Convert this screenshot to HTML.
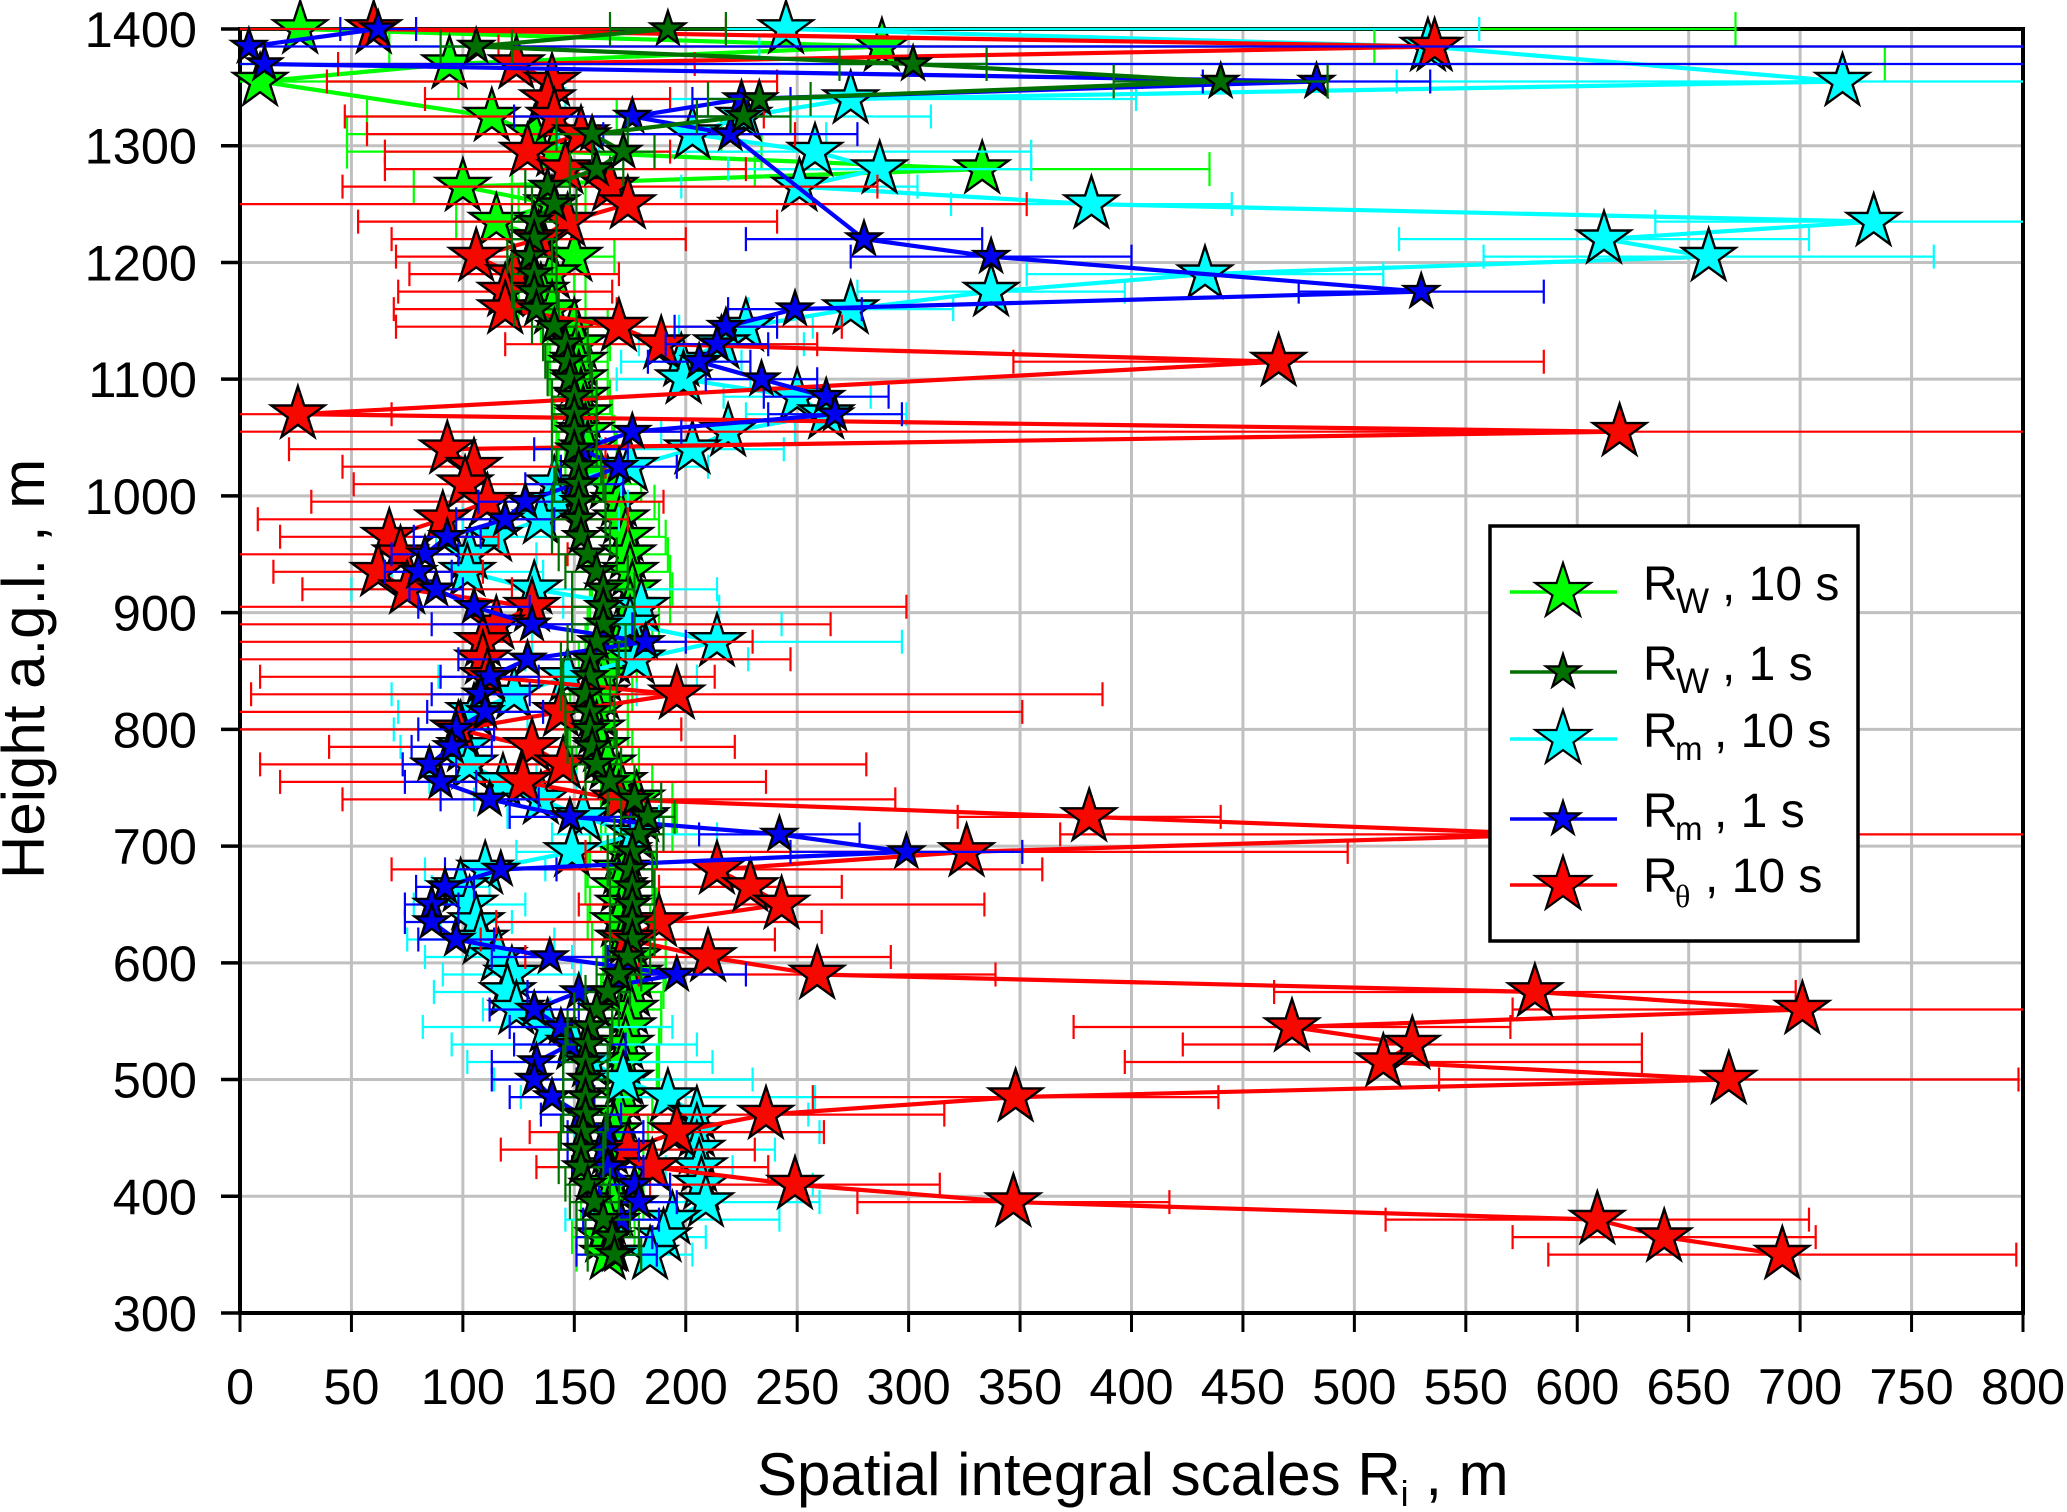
<!DOCTYPE html>
<html lang="en">
<head>
<meta charset="utf-8">
<title>Spatial integral scales vs height</title>
<style>
html,body{margin:0;padding:0;background:#fff;}
svg{display:block;}
text{font-family:"Liberation Sans",sans-serif;fill:#000;}
</style>
</head>
<body>
<svg id="chart" xmlns="http://www.w3.org/2000/svg" width="2067" height="1512" viewBox="0 0 2067 1512">
  <defs><clipPath id="plot-clip"><rect x="240" y="0" width="1783" height="1512"></rect></clipPath></defs>
  <rect x="0" y="0" width="2067" height="1512" fill="#ffffff"></rect>
  <g id="grid"></g>
  <g id="frame"></g>
  <g id="series" ></g>
  <text x="757" y="1495" font-size="60">Spatial integral scales R<tspan font-size="36" dy="11">i</tspan><tspan dy="-11"> , m</tspan></text>
  <text transform="translate(44,879) rotate(-90)" font-size="60">Height a.g.l. , m</text>
  <g id="legend">
    <rect x="1490" y="526" width="368" height="415" fill="#ffffff" stroke="#000000" stroke-width="3.5"></rect>
    <g><text x="1643" y="600" font-size="48">R</text><text x="1676" y="613" font-size="35">W</text><text x="1722" y="600" font-size="48">, 10 s</text></g>
    <g><text x="1643" y="680" font-size="48">R</text><text x="1676" y="693" font-size="35">W</text><text x="1722" y="680" font-size="48">, 1 s</text></g>
    <g><text x="1643" y="747" font-size="48">R</text><text x="1675" y="760" font-size="33">m</text><text x="1714" y="747" font-size="48">, 10 s</text></g>
    <g><text x="1643" y="827" font-size="48">R</text><text x="1675" y="840" font-size="33">m</text><text x="1714" y="827" font-size="48">, 1 s</text></g>
    <g><text x="1643" y="892" font-size="48">R</text><text x="1675" y="907" font-size="32" style="font-family:'Liberation Serif',serif">θ</text><text x="1705" y="892" font-size="48">, 10 s</text></g>
  </g>
</svg>
<script>
const xTickLabels = [0,50,100,150,200,250,300,350,400,450,500,550,600,650,700,750,800];
const yTickLabels = [300,400,500,600,700,800,900,1000,1100,1200,1300,1400];
const heights = [1400,1385,1370,1355,1340,1325,1310,1295,1280,1265,1250,1235,1220,1205,1190,1175,1160,1145,1130,1115,1100,1085,1070,1055,1040,1025,1010,995,980,965,950,935,920,905,890,875,860,845,830,815,800,785,770,755,740,725,710,695,680,665,650,635,620,605,590,575,560,545,530,515,500,485,470,455,440,425,410,395,380,365,350];
const rw10Values = [27,288,94,9,null,113,132,141,333,100,140,115,135,150,140,135,140,150,152,152,152,153,154,155,156,160,165,170,171,173,174,175,176,175,172,170,167,163,162,160,160,162,165,170,178,180,178,172,171,170,172,170,172,177,177,176,175,174,173,172,173,172,170,168,166,165,167,167,165,163,165];
const rw10Errors = [644,221,644,89,null,56,84,93,102,22,15,18,15,18,15,15,15,15,14,13,13,13,13,13,13,14,15,16,17,18,18,18,18,18,16,15,15,15,14,14,14,14,14,15,16,16,16,15,15,15,15,14,14,14,14,14,14,15,15,15,15,15,15,15,15,14,14,14,14,14,14];
const rw1Values = [192,106,302,440,233,226,158,172,160,138,141,132,132,130,132,132,133,141,146,147,148,150,150,150,150,152,152,152,152,153,156,160,163,163,163,160,157,157,155,157,157,158,160,166,177,183,179,176,175,176,176,176,176,174,170,165,160,157,156,155,155,155,155,154,153,153,156,159,163,167,168];
const rw1Errors = [26,16,33,48,23,21,16,14,12,10,10,10,10,10,10,10,10,10,10,10,10,10,10,10,10,10,11,12,12,13,13,14,14,14,14,13,13,12,11,11,11,11,11,11,12,12,11,11,10,10,10,10,10,10,10,10,10,10,10,10,10,10,10,10,10,10,10,11,12,12,12];
const rm10Values = [245,533,null,719,274,226,203,258,287,251,382,733,612,659,433,337,274,227,216,198,199,250,263,219,203,175,141,142,135,114,103,102,132,180,175,214,178,147,123,105,99,101,103,118,135,154,177,149,110,99,103,106,108,116,122,120,124,138,150,157,172,192,205,205,205,206,207,209,194,190,184];
const rm10Errors = [311,300,null,200,128,84,60,97,68,53,63,98,92,101,80,60,46,30,37,27,30,33,36,30,41,35,30,32,35,26,30,34,82,35,68,83,50,58,55,34,30,29,30,33,30,34,37,25,27,13,25,16,33,33,31,33,15,56,55,55,58,66,50,55,35,15,50,51,48,19,19];
const rm1Values = [62,4,11,483,225,176,220,null,null,null,null,null,280,337,null,530,249,218,214,206,234,263,267,176,153,170,150,128,119,93,83,80,88,105,131,182,129,112,108,110,97,95,85,90,112,148,242,299,117,92,86,86,97,139,196,152,132,144,148,133,132,140,153,164,163,165,177,179,171,168,169];
const rm1Errors = [17,800,800,51,22,53,57,null,null,null,null,null,53,63,null,55,30,23,23,23,25,28,30,22,21,26,22,21,22,15,15,15,12,25,45,18,31,22,22,26,17,18,12,16,22,27,36,52,25,13,12,12,17,26,31,23,20,23,25,20,19,19,18,17,16,16,16,17,17,17,18];
const rtheta10Values = [60,536,124,140,138,141,153,129,146,166,174,147,134,106,123,119,119,170,189,466,null,null,26,619,93,105,101,111,91,67,72,62,75,131,115,109,109,111,196,144,98,131,145,127,170,381,590,326,214,229,243,188,174,210,259,581,701,472,526,513,668,348,236,196,174,185,249,347,609,639,692];
const rtheta10Errors = [158,420,80,101,55,94,96,64,81,120,179,94,66,36,47,48,50,100,70,119,null,null,42,640,71,59,50,79,83,49,75,47,47,168,150,121,138,102,191,207,100,91,136,109,124,59,222,171,146,41,91,73,66,82,80,117,130,98,103,116,130,91,80,66,57,52,65,70,95,68,105];

const SVG_NS = 'http://www.w3.org/2000/svg';
function xScale(v){ return 240 + (v - 0) * (2023 - 240) / 800; }
function yScale(h){ return 29 + (1400 - h) * (1313 - 29) / 1100; }
function make(tag, parent){ const el = document.createElementNS(SVG_NS, tag); parent.appendChild(el); return el; }
function starPath(cx, cy, r){
  let d = '';
  for (let k = 0; k < 10; k++){
    const rad = k % 2 === 0 ? r : r * 0.382;
    const a = -Math.PI / 2 + k * Math.PI / 5;
    d += (k === 0 ? 'M' : 'L') + (cx + rad * Math.cos(a)).toFixed(1) + ' ' + (cy + rad * Math.sin(a)).toFixed(1);
  }
  return d + 'Z';
}

const gridG = document.getElementById('grid');
const frameG = document.getElementById('frame');
xTickLabels.forEach(function(t){
  const x = xScale(t);
  if (t !== 0 && t !== 800){
    const g = make('line', gridG);
    
    
    g.setAttribute('x1', x); g.setAttribute('x2', x);
    g.setAttribute('y1', yScale(1400)); g.setAttribute('y2', yScale(300));
    g.setAttribute('stroke', '#c0c0c0'); g.setAttribute('stroke-width', '3');
  }
  const tick = make('line', frameG);
  
  
  tick.setAttribute('x1', x); tick.setAttribute('x2', x);
  tick.setAttribute('y1', yScale(300)); tick.setAttribute('y2', yScale(300) + 19);
  tick.setAttribute('stroke', '#000'); tick.setAttribute('stroke-width', '3');
  const lab = make('text', frameG);
  
  
  lab.setAttribute('x', x); lab.setAttribute('y', 1404);
  lab.setAttribute('font-size', '50.5'); lab.setAttribute('text-anchor', 'middle');
  lab.textContent = String(t);
});
yTickLabels.forEach(function(t){
  const y = yScale(t);
  if (t !== 300 && t !== 1400){
    const g = make('line', gridG);
    
    
    g.setAttribute('x1', xScale(0)); g.setAttribute('x2', xScale(800));
    g.setAttribute('y1', y); g.setAttribute('y2', y);
    g.setAttribute('stroke', '#c0c0c0'); g.setAttribute('stroke-width', '3');
  }
  const tick = make('line', frameG);
  
  
  tick.setAttribute('x1', xScale(0) - 19); tick.setAttribute('x2', xScale(0));
  tick.setAttribute('y1', y); tick.setAttribute('y2', y);
  tick.setAttribute('stroke', '#000'); tick.setAttribute('stroke-width', '3.5');
  const lab = make('text', frameG);
  
  
  lab.setAttribute('x', 197); lab.setAttribute('y', y + 18);
  lab.setAttribute('font-size', '50.5'); lab.setAttribute('text-anchor', 'end');
  lab.textContent = String(t);
});
const plotFrame = make('rect', frameG);


plotFrame.setAttribute('x', xScale(0)); plotFrame.setAttribute('y', yScale(1400));
plotFrame.setAttribute('width', xScale(800) - xScale(0)); plotFrame.setAttribute('height', yScale(300) - yScale(1400));
plotFrame.setAttribute('fill', 'none'); plotFrame.setAttribute('stroke', '#000'); plotFrame.setAttribute('stroke-width', '4');

const seriesG = document.getElementById('series');
function drawSeries(key, values, errors, lineColor, starRadius, capHalf){
  const group = make('g', seriesG);
  
  
  const clipped = make('g', group);
  clipped.setAttribute('clip-path', 'url(#plot-clip)');
  
  
  let pts = '';
  values.forEach(function(v, i){
    if (v === null) return;
    pts += xScale(v).toFixed(1) + ',' + yScale(heights[i]).toFixed(1) + ' ';
    const e = errors[i];
    if (e === null) return;
    const y = yScale(heights[i]);
    const bar = make('path', clipped);
    
    
    const xl = xScale(v - e), xr = xScale(v + e);
    bar.setAttribute('d', 'M' + xl.toFixed(1) + ' ' + y.toFixed(1) + 'H' + xr.toFixed(1) +
      'M' + xl.toFixed(1) + ' ' + (y - capHalf).toFixed(1) + 'V' + (y + capHalf).toFixed(1) +
      'M' + xr.toFixed(1) + ' ' + (y - capHalf).toFixed(1) + 'V' + (y + capHalf).toFixed(1));
    bar.setAttribute('fill', 'none');
    bar.setAttribute('stroke', lineColor.bar);
    bar.setAttribute('stroke-width', '2.2');
  });
  const line = make('polyline', clipped);
  
  
  line.setAttribute('points', pts.trim());
  line.setAttribute('fill', 'none');
  line.setAttribute('stroke', lineColor.bar);
  line.setAttribute('stroke-width', '4.2');
  line.setAttribute('stroke-linejoin', 'miter');
  values.forEach(function(v, i){
    if (v === null) return;
    const star = make('path', group);
    
    
    star.setAttribute('d', starPath(xScale(v), yScale(heights[i]), starRadius));
    star.setAttribute('fill', lineColor.fill);
    star.setAttribute('stroke', '#000');
    star.setAttribute('stroke-width', '2.4');
  });
}
drawSeries('rw-10s', rw10Values, rw10Errors, {bar:'#00ff00', fill:'#00ff00'}, 28, 17);
drawSeries('rm-10s', rm10Values, rm10Errors, {bar:'#00ffff', fill:'#00ffff'}, 28, 12);
drawSeries('rtheta-10s', rtheta10Values, rtheta10Errors, {bar:'#ff0000', fill:'#f50800'}, 28, 12);
drawSeries('rm-1s', rm1Values, rm1Errors, {bar:'#0000ff', fill:'#0000f0'}, 18, 12);
drawSeries('rw-1s', rw1Values, rw1Errors, {bar:'#007000', fill:'#006e00'}, 18, 17);

const legendKeys = ['rw-10s','rw-1s','rm-10s','rm-1s','rtheta-10s'];
const legendColors = ['#00ff00','#007000','#00ffff','#0000ff','#ff0000'];
const legendG = document.getElementById('legend');
[592,672,739,819,885].forEach(function(rowY, i){
  const sample = make('line', legendG);
  
  
  sample.setAttribute('x1', 1510); sample.setAttribute('x2', 1617);
  sample.setAttribute('y1', rowY); sample.setAttribute('y2', rowY);
  sample.setAttribute('stroke', legendColors[i]); sample.setAttribute('stroke-width', '3.5');
  const marker = make('path', legendG);
  
  
  marker.setAttribute('d', starPath(1563, rowY, (i === 1 || i === 3) ? 18 : 29));
  marker.setAttribute('fill', legendColors[i]);
  marker.setAttribute('stroke', '#000');
  marker.setAttribute('stroke-width', '2.2');
});
</script>
</body>
</html>
